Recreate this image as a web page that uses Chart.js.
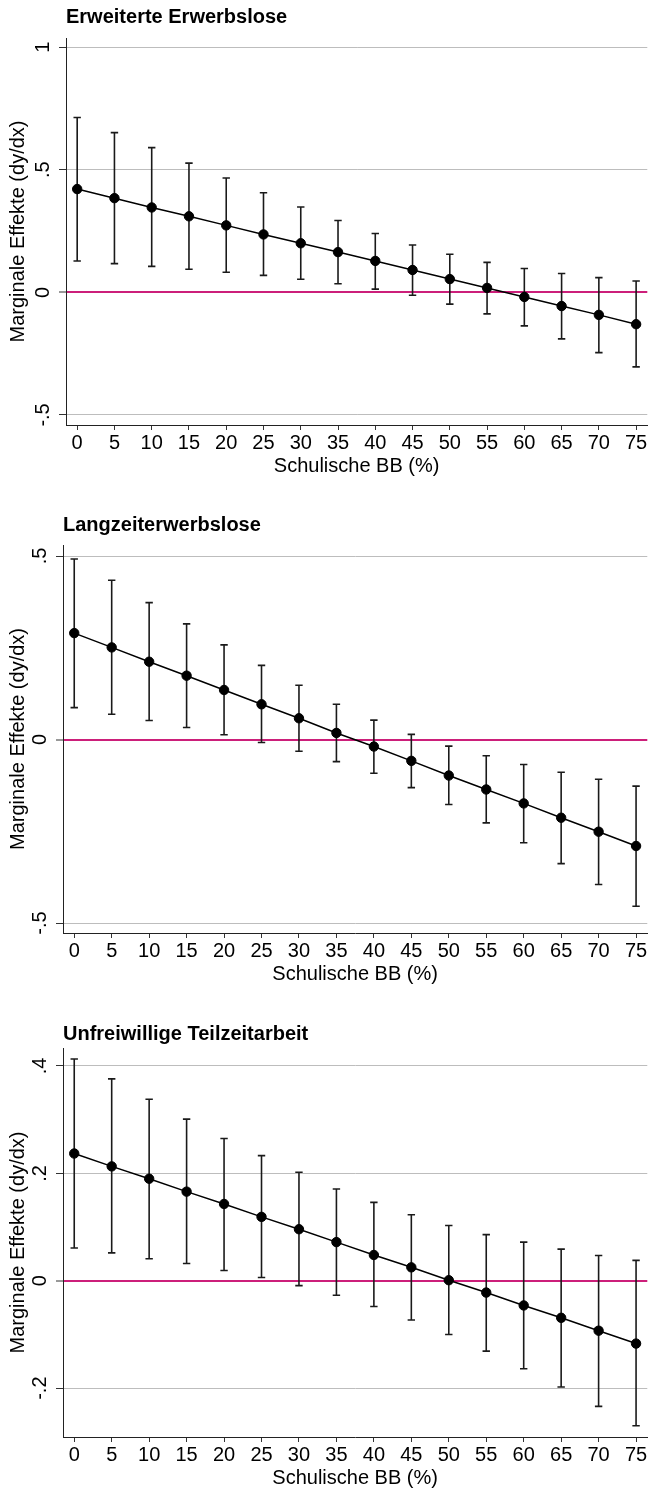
<!DOCTYPE html>
<html>
<head>
<meta charset="utf-8">
<script src="https://cdn.jsdelivr.net/npm/chart.js@4.4.1/dist/chart.umd.min.js"></script>
<style>
  html, body { margin: 0; padding: 0; background: #fff; overflow: hidden; }
  #wrap { position: relative; width: 653px; height: 1488px; }
  canvas { position: absolute; left: 0; }
</style>
</head>
<body>
<div id="wrap">
  <canvas id="c1"></canvas>
  <canvas id="c2"></canvas>
  <canvas id="c3"></canvas>
</div>
<script>
// x: share of school-based vocational training (%)
const shares = [0, 5, 10, 15, 20, 25, 30, 35, 40, 45, 50, 55, 60, 65, 70, 75];
const xTitle = 'Schulische BB (%)';
const yTitle = 'Marginale Effekte (dy/dx)';

// panel 1
const title1 = 'Erweiterte Erwerbslose';
const effect1 = [0.421, 0.384, 0.346, 0.310, 0.273, 0.236, 0.200, 0.164, 0.128, 0.091, 0.054, 0.018, -0.019, -0.056, -0.092, -0.130];
const upper1 = [0.713, 0.651, 0.590, 0.527, 0.466, 0.406, 0.348, 0.293, 0.240, 0.193, 0.155, 0.122, 0.097, 0.077, 0.060, 0.046];
const lower1 = [0.128, 0.117, 0.106, 0.094, 0.082, 0.069, 0.053, 0.035, 0.013, -0.012, -0.048, -0.088, -0.137, -0.190, -0.246, -0.304];
const yTicks1 = [-0.5, 0, 0.5, 1];
const yLabels1 = ['-.5', '0', '.5', '1'];

// panel 2
const title2 = 'Langzeiterwerbslose';
const effect2 = [0.290, 0.251, 0.212, 0.174, 0.135, 0.096, 0.058, 0.018, -0.019, -0.058, -0.098, -0.136, -0.174, -0.213, -0.251, -0.290];
const upper2 = [0.492, 0.434, 0.373, 0.315, 0.258, 0.202, 0.148, 0.096, 0.053, 0.014, -0.018, -0.044, -0.068, -0.089, -0.108, -0.127];
const lower2 = [0.087, 0.069, 0.052, 0.033, 0.013, -0.008, -0.032, -0.060, -0.092, -0.131, -0.177, -0.227, -0.281, -0.338, -0.395, -0.454];
const yTicks2 = [-0.5, 0, 0.5];
const yLabels2 = ['-.5', '0', '.5'];

// panel 3
const title3 = 'Unfreiwillige Teilzeitarbeit';
const effect3 = [0.237, 0.213, 0.190, 0.166, 0.143, 0.119, 0.096, 0.072, 0.048, 0.025, 0.001, -0.022, -0.046, -0.069, -0.093, -0.117];
const upper3 = [0.413, 0.376, 0.338, 0.301, 0.265, 0.233, 0.202, 0.171, 0.146, 0.123, 0.103, 0.086, 0.072, 0.059, 0.047, 0.038];
const lower3 = [0.061, 0.052, 0.041, 0.032, 0.019, 0.006, -0.009, -0.027, -0.048, -0.073, -0.100, -0.131, -0.164, -0.198, -0.234, -0.270];
const yTicks3 = [-0.2, 0, 0.2, 0.4];
const yLabels3 = ['-.2', '0', '.2', '.4'];

const FONT = '"Liberation Sans", Arial, Helvetica, sans-serif';
const zeroColor = '#cc1f7a';
const gridColor = '#bdbdbd';

Chart.defaults.font.family = FONT;
Chart.defaults.color = '#000';

const panels = [
  { id: 'c1', title: title1, effect: effect1, upper: upper1, lower: lower1, yTicks: yTicks1, yLabels: yLabels1,
    yMin: -0.541, yMax: 1.037, top: 5, plotTop: 38, plotBottom: 425, plotLeft: 66, plotRight: 651 },
  { id: 'c2', title: title2, effect: effect2, upper: upper2, lower: lower2, yTicks: yTicks2, yLabels: yLabels2,
    yMin: -0.527, yMax: 0.530, top: 513, plotTop: 545, plotBottom: 933, plotLeft: 63, plotRight: 650 },
  { id: 'c3', title: title3, effect: effect3, upper: upper3, lower: lower3, yTicks: yTicks3, yLabels: yLabels3,
    yMin: -0.291, yMax: 0.4335, top: 1022, plotTop: 1048, plotBottom: 1437, plotLeft: 63, plotRight: 650 }
];

const X_AXIS_H = 51;

function whiskers(p) {
  const pts = [];
  shares.forEach((x, i) => {
    pts.push({ x, y: p.lower[i] }, { x, y: p.upper[i] }, { x, y: null });
  });
  return pts;
}

function drawPanel(p) {
  const canvas = document.getElementById(p.id);
  const h = p.plotBottom - p.top + X_AXIS_H;
  canvas.width = 653;
  canvas.height = h;
  canvas.style.top = p.top + 'px';
  canvas.style.width = '653px';
  canvas.style.height = h + 'px';

  const pts = k => shares.map((x, i) => ({ x, y: p[k][i] }));

  new Chart(canvas, {
    type: 'scatter',
    data: {
      datasets: [
        {
          data: pts('effect'),
          showLine: true,
          borderColor: '#000',
          borderWidth: 1.5,
          pointRadius: 4.7,
          pointBackgroundColor: '#000',
          pointBorderColor: '#000',
          pointBorderWidth: 1
        },
        {
          data: whiskers(p),
          showLine: true,
          spanGaps: false,
          borderColor: '#1a1a1a',
          borderWidth: 1.6,
          pointRadius: 0
        },
        {
          data: pts('upper'),
          pointStyle: 'line',
          pointRadius: 3.7,
          borderColor: '#1a1a1a',
          pointBorderColor: '#1a1a1a',
          pointBorderWidth: 1.6
        },
        {
          data: pts('lower'),
          pointStyle: 'line',
          pointRadius: 3.7,
          borderColor: '#1a1a1a',
          pointBorderColor: '#1a1a1a',
          pointBorderWidth: 1.6
        }
      ]
    },
    options: {
      responsive: false,
      animation: false,
      devicePixelRatio: 1,
      events: [],
      layout: { padding: { left: 0, right: 653 - p.plotRight, top: 0, bottom: 0 } },
      plugins: {
        legend: { display: false },
        tooltip: { enabled: false },
        title: {
          display: true,
          text: p.title,
          align: 'start',
          fullSize: false,
          color: '#000',
          font: { family: FONT, size: 20, weight: 'bold', lineHeight: 1.2 },
          padding: { top: 0, bottom: p.plotTop - p.top - 24 }
        }
      },
      scales: {
        x: {
          type: 'linear',
          min: -1.5,
          max: 76.5,
          afterBuildTicks: s => { s.ticks = shares.map(v => ({ value: v })); },
          afterFit: s => { s.height = X_AXIS_H; },
          ticks: {
            color: '#000',
            padding: 3,
            maxRotation: 0,
            autoSkip: false,
            font: { family: FONT, size: 20, lineHeight: 1 }
          },
          grid: { drawOnChartArea: false, drawTicks: true, tickLength: 5, tickColor: '#333', tickWidth: 1 },
          border: { display: true, color: '#222', width: 1 },
          title: {
            display: true,
            text: xTitle,
            color: '#000',
            font: { family: FONT, size: 20, lineHeight: 1 },
            padding: { top: 0, bottom: 0 }
          }
        },
        y: {
          type: 'linear',
          min: p.yMin,
          max: p.yMax,
          afterBuildTicks: s => { s.ticks = p.yTicks.map(v => ({ value: v })); },
          afterFit: s => { s.width = p.plotLeft; },
          ticks: {
            color: '#000',
            padding: 4,
            minRotation: 90,
            maxRotation: 90,
            crossAlign: 'center',
            autoSkip: false,
            font: { family: FONT, size: 20, lineHeight: 1 },
            callback: v => p.yLabels[p.yTicks.indexOf(v)]
          },
          grid: {
            drawTicks: true,
            tickLength: 7,
            tickColor: '#333',
            tickWidth: 1,
            color: c => (c.tick && c.tick.value === 0 ? zeroColor : gridColor),
            lineWidth: c => (c.tick && c.tick.value === 0 ? 2 : 1)
          },
          border: { display: true, color: '#222', width: 1 },
          title: {
            display: true,
            text: yTitle,
            color: '#000',
            font: { family: FONT, size: 20, lineHeight: 1 },
            padding: { top: 8, bottom: 0 }
          }
        }
      }
    }
  });
}

panels.forEach(drawPanel);
</script>
</body>
</html>
